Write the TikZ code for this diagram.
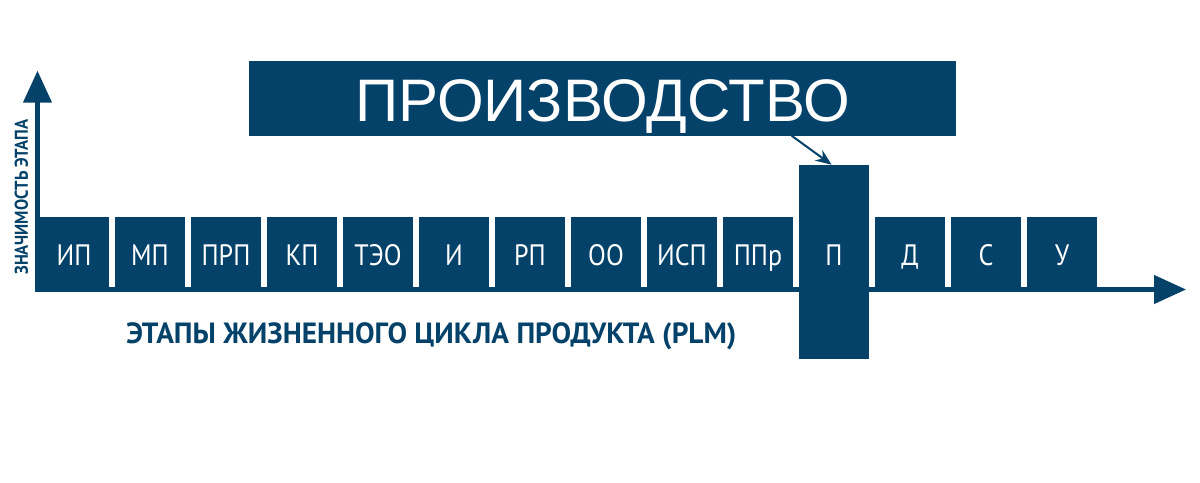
\documentclass[tikz,border=0pt]{standalone}
\usepackage{fontspec}
\usepackage{tikz}
\usetikzlibrary{arrows.meta,positioning,calc}
\setmainfont{Liberation Sans}
\newfontfamily\stagefont{PT Sans}[FakeStretch=0.88]
\newfontfamily\axisfont{PT Sans}[FakeStretch=0.9]
\newfontfamily\plmfont{PT Sans}
\definecolor{plmblue}{RGB}{4,66,106}

\begin{document}
\begin{tikzpicture}[x=0.25mm, y=-0.25mm,
		stagebox/.style={fill=plmblue, text=white, inner sep=0pt, minimum width=17.5mm, minimum height=17.5mm, text height=19.4pt, text depth=0pt, font=\stagefont\fontsize{21}{21}\selectfont},
		axisline/.style={plmblue, line width=1.125mm, -{Triangle[length=8mm, width=7mm]}},
		axislabel/.style={text=plmblue, inner sep=0pt}]
				\useasboundingbox (0,0) rectangle (1200,482);
				
				% Draw stage boxes
				\foreach \i/\lbl in {0/ИП,1/МП,2/ПРП,3/КП,4/ТЭО,5/И,6/РП,7/ОО,8/ИСП,9/ППр,11/Д,12/С,13/У}
					\node[stagebox] (s\i) at ({74+76*\i},252) {\lbl};
				
				% Draw production box
				\node[stagebox, minimum height=48.5mm, text height=14.7pt, text depth=9.5pt] (prod) at (834,262) {П};
				
				% Draw axes
				\coordinate (origin) at (35,289.5);
				\coordinate (xend) at (1186,289.5);
				\coordinate (ybase) at (37.5,291.7);
				\coordinate (yend) at (37.5,70.7);
				\draw[axisline] (origin) -- (xend);
				\draw[axisline] (ybase) -- (yend);
				
				% Draw title
				\node[fill=plmblue, text=white, minimum width=176.75mm, minimum height=18.75mm, inner sep=0pt, text height=33.4pt, text depth=0pt, font=\fontsize{42.7}{42.7}\selectfont] (title) at (602.5,98) {ПРОИЗВОДСТВО};
				\draw[plmblue, line width=0.5mm, -{Stealth[length=4mm, width=3.2mm]}] ([xshift=47.3mm]title.south) -- ([xshift=-0.6mm]prod.north);
				
				% Add labels
				\node[axislabel, rotate=90, anchor=base west, font=\axisfont\bfseries\fontsize{13.2}{13.2}\selectfont] (ylabel) at (28,275) {ЗНАЧИМОСТЬ ЭТАПА};
				\node[axislabel, anchor=base west, font=\plmfont\bfseries\fontsize{20.8}{20.8}\selectfont] (xlabel) at (126,343) {ЭТАПЫ ЖИЗНЕННОГО ЦИКЛА ПРОДУКТА (PLM)};
			\end{tikzpicture}
\end{document}
